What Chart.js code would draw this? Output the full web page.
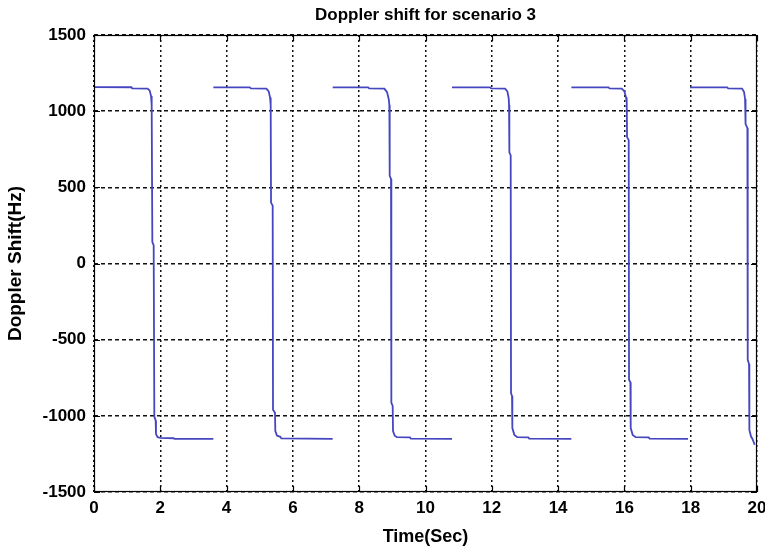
<!DOCTYPE html>
<html lang="en">
<head>
    <meta charset="UTF-8">
    <title>Doppler shift for scenario 3</title>
    <script src="https://cdn.jsdelivr.net/npm/chart.js"></script>
    <style>
        body { margin: 0; background: #fff; }
    </style>
</head>
<body>
<canvas id="dopplerChart" width="765" height="550"></canvas>

<script>
    // time samples (sec) and Doppler shift (Hz); null splits the six passes
    const timeSec = [
        0, 1.13, 1.15, 1.62, 1.68, 1.72, 1.74, 1.76, 1.80, 1.82, 1.86, 1.87, 1.92, 2.00, 2.40, 2.43, 3.6, 3.6,
        3.6, 4.70, 4.73, 5.20, 5.27, 5.31, 5.33, 5.34, 5.39, 5.40, 5.46, 5.47, 5.52, 5.62, 5.65, 7.2, 7.2,
        7.2, 8.27, 8.30, 8.76, 8.84, 8.89, 8.91, 8.92, 8.96, 8.97, 9.01, 9.02, 9.07, 9.14, 9.53, 9.56, 10.8, 10.8,
        10.8, 11.95, 11.98, 12.40, 12.47, 12.51, 12.52, 12.53, 12.57, 12.58, 12.61, 12.62, 12.68, 12.77, 13.10, 13.13, 14.4, 14.4,
        14.4, 15.52, 15.55, 15.92, 16.00, 16.05, 16.07, 16.08, 16.13, 16.14, 16.18, 16.19, 16.25, 16.34, 16.73, 16.76, 17.92, 17.95,
        17.98, 19.10, 19.13, 19.55, 19.61, 19.64, 19.65, 19.66, 19.71, 19.72, 19.76, 19.77, 19.82, 19.86, 19.93
    ];
    const shiftHz = [
        1158, 1157, 1150, 1148, 1135, 1100, 1040, 140, 120, -1005, -1030, -1120, -1140, -1145, -1147, -1151, -1151, null,
        1156, 1156, 1150, 1148, 1130, 1090, 1040, 400, 380, -960, -980, -1100, -1130, -1138, -1148, -1151, null,
        1156, 1156, 1150, 1148, 1125, 1080, 1040, 575, 555, -915, -935, -1100, -1130, -1140, -1142, -1150, -1151, null,
        1156, 1156, 1150, 1148, 1130, 1085, 1040, 730, 710, -850, -870, -1080, -1125, -1140, -1142, -1150, -1151, null,
        1156, 1156, 1150, 1148, 1130, 1090, 1060, 830, 810, -763, -780, -1080, -1125, -1140, -1142, -1150, -1151, null,
        1156, 1156, 1150, 1148, 1125, 1080, 1040, 915, 890, -632, -660, -1092, -1136, -1150, -1190
    ];
    const xTicks = [0, 2, 4, 6, 8, 10, 12, 14, 16, 18, 20];
    const yTicks = [-1500, -1000, -500, 0, 500, 1000, 1500];

    const points = timeSec.map((t, i) => ({ x: t, y: shiftHz[i] }));

    // matlab style box with inward tick marks
    const boxPlugin = {
        id: 'box',
        afterDraw(chart) {
            const { ctx, chartArea: a, scales } = chart;
            ctx.save();
            ctx.setLineDash([]);
            ctx.strokeStyle = '#000';
            ctx.lineWidth = 1.2;
            ctx.strokeRect(a.left + 0.5, a.top + 0.5, a.right - a.left - 1, a.bottom - a.top - 1);
            ctx.beginPath();
            xTicks.forEach(v => {
                const px = Math.round(scales.x.getPixelForValue(v)) + 0.5;
                ctx.moveTo(px, a.bottom); ctx.lineTo(px, a.bottom - 6);
                ctx.moveTo(px, a.top); ctx.lineTo(px, a.top + 6);
            });
            yTicks.forEach(v => {
                const py = Math.round(scales.y.getPixelForValue(v)) + 0.5;
                ctx.moveTo(a.left, py); ctx.lineTo(a.left + 6, py);
                ctx.moveTo(a.right, py); ctx.lineTo(a.right - 6, py);
            });
            ctx.stroke();
            ctx.restore();
        }
    };

    Chart.defaults.font.family = '"Liberation Sans", Arial, sans-serif';
    Chart.defaults.color = '#000';

    new Chart(document.getElementById('dopplerChart'), {
        type: 'line',
        data: {
            datasets: [{
                data: points,
                borderColor: '#4646c0',
                borderWidth: 1.8,
                pointRadius: 0,
                spanGaps: false,
                tension: 0
            }]
        },
        options: {
            responsive: false,
            animation: false,
            layout: { padding: { left: 0, right: 8, top: 0, bottom: 0 } },
            plugins: {
                legend: { display: false },
                tooltip: { enabled: false },
                title: {
                    display: true,
                    text: 'Doppler shift for scenario 3',
                    fullSize: false,
                    color: '#000',
                    font: { size: 17, weight: 'bold' },
                    padding: { top: 5, bottom: 9.6 }
                }
            },
            scales: {
                x: {
                    type: 'linear',
                    min: 0,
                    max: 20,
                    afterBuildTicks: s => { s.ticks = xTicks.map(v => ({ value: v })); },
                    afterFit: s => { s.height = 58; s.paddingLeft = 0; s.paddingRight = 0; },
                    grid: { color: '#111', lineWidth: 1.5, drawTicks: false },
                    border: { display: false, dash: [2, 3] },
                    ticks: { font: { size: 17, weight: 'bold' }, padding: 6, maxRotation: 0, callback: v => String(v) },
                    title: {
                        display: true,
                        text: 'Time(Sec)',
                        font: { size: 18, weight: 'bold' },
                        padding: { top: 0, bottom: 2 }
                    }
                },
                y: {
                    min: -1500,
                    max: 1500,
                    afterBuildTicks: s => { s.ticks = yTicks.map(v => ({ value: v })); },
                    afterFit: s => { s.width = 94; s.paddingTop = 0; s.paddingBottom = 0; },
                    grid: { color: '#111', lineWidth: 1.5, drawTicks: false },
                    border: { display: false, dash: [4, 3] },
                    ticks: { font: { size: 17, weight: 'bold' }, padding: 8, callback: v => String(v) },
                    title: {
                        display: true,
                        text: 'Doppler Shift(Hz)',
                        font: { size: 19, weight: 'bold' },
                        padding: { top: 4, bottom: 0 }
                    }
                }
            }
        },
        plugins: [boxPlugin]
    });
</script>
</body>
</html>
